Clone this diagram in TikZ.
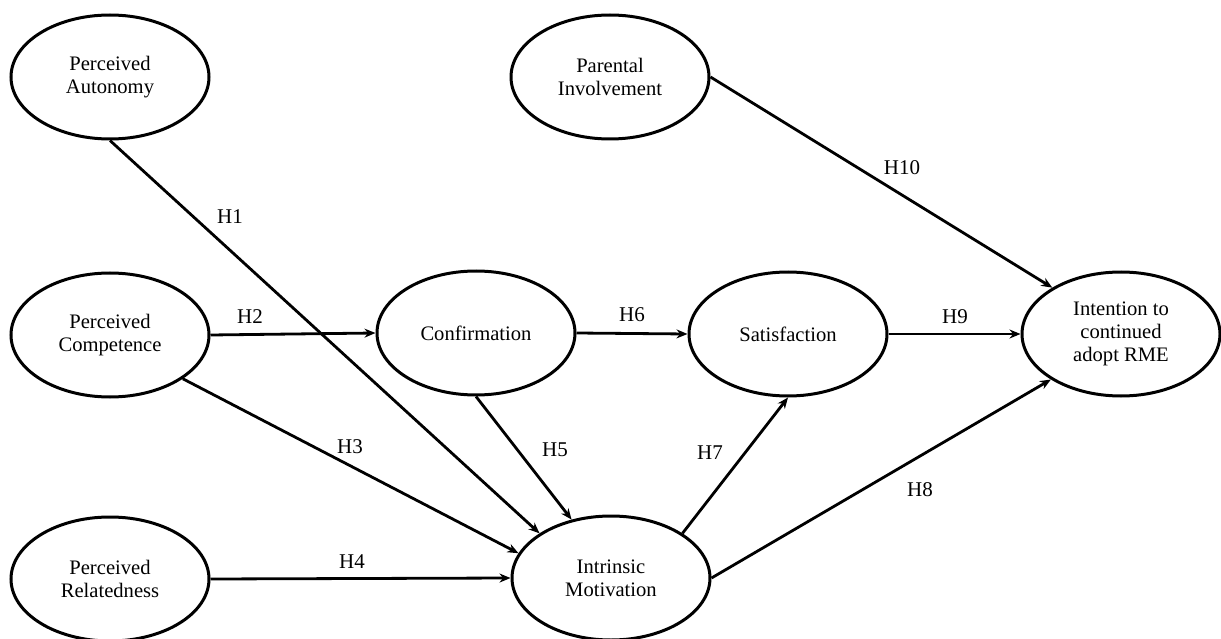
\documentclass[tikz,border=0pt]{standalone}
\usepackage{fontspec}
\setmainfont{Liberation Serif}
\usetikzlibrary{shapes.geometric,arrows.meta}

\tikzset{
	construct/.style={draw,ellipse,line width=3pt,minimum width=198pt,minimum height=124pt,inner sep=0pt,align=center,font=\fontsize{20.6}{23}\selectfont},
	hyp/.style={line width=2.8pt,-{Stealth[length=11pt,width=9pt]}},
	hlab/.style={font=\fontsize{21}{23}\selectfont,inner sep=0pt}
}

\begin{document}
\begin{tikzpicture}[x=1pt,y=-1pt]
	\useasboundingbox (0,0) rectangle (1221,639);

	% constructs
	\node[construct] (aut) at (110,77) {Perceived\\Autonomy};
	\node[construct] (par) at (610,77) {Parental\\Involvement};
	\node[construct] (comp) at (110,335) {Perceived\\Competence};
	\node[construct] (conf) at (476,333) {Confirmation};
	\node[construct] (sat) at (788,334) {Satisfaction};
	\node[construct] (int) at (1121,334) {Intention to\\continued\\adopt RME};
	\node[construct] (rel) at (110,579) {Perceived\\Relatedness};
	\node[construct] (intr) at (611,578) {Intrinsic\\Motivation};

	% paths
	\draw[hyp] (aut.south) -- (intr.148);
	\draw[hyp] (comp.east) -- (conf.west);
	\draw[hyp] (comp.-31) -- (intr.165);
	\draw[hyp] (rel.east) -- (intr.west);
	\draw[hyp] (conf.south) -- (intr.124);
	\draw[hyp] (conf.east) -- (sat.west);
	\draw[hyp] (intr.32) -- (sat.south);
	\draw[hyp] (intr.east) -- (int.213);
	\draw[hyp] (sat.east) -- (int.west);
	\draw[hyp] (par.east) -- (int.146);

	%% hypothesis labels
	\node[hlab] (h1) at (230,217) {H1};
	\node[hlab] (h2) at (250,317) {H2};
	\node[hlab] (h3) at (350,447) {H3};
	\node[hlab] (h4) at (352,562) {H4};
	\node[hlab] (h5) at (555,450) {H5};
	\node[hlab] (h6) at (632,315) {H6};
	\node[hlab] (h7) at (710,453) {H7};
	\node[hlab] (h8) at (920,490) {H8};
	\node[hlab] (h9) at (955,317) {H9};
	\node[hlab] (h10) at (902,168) {H10};
\end{tikzpicture}
\end{document}
